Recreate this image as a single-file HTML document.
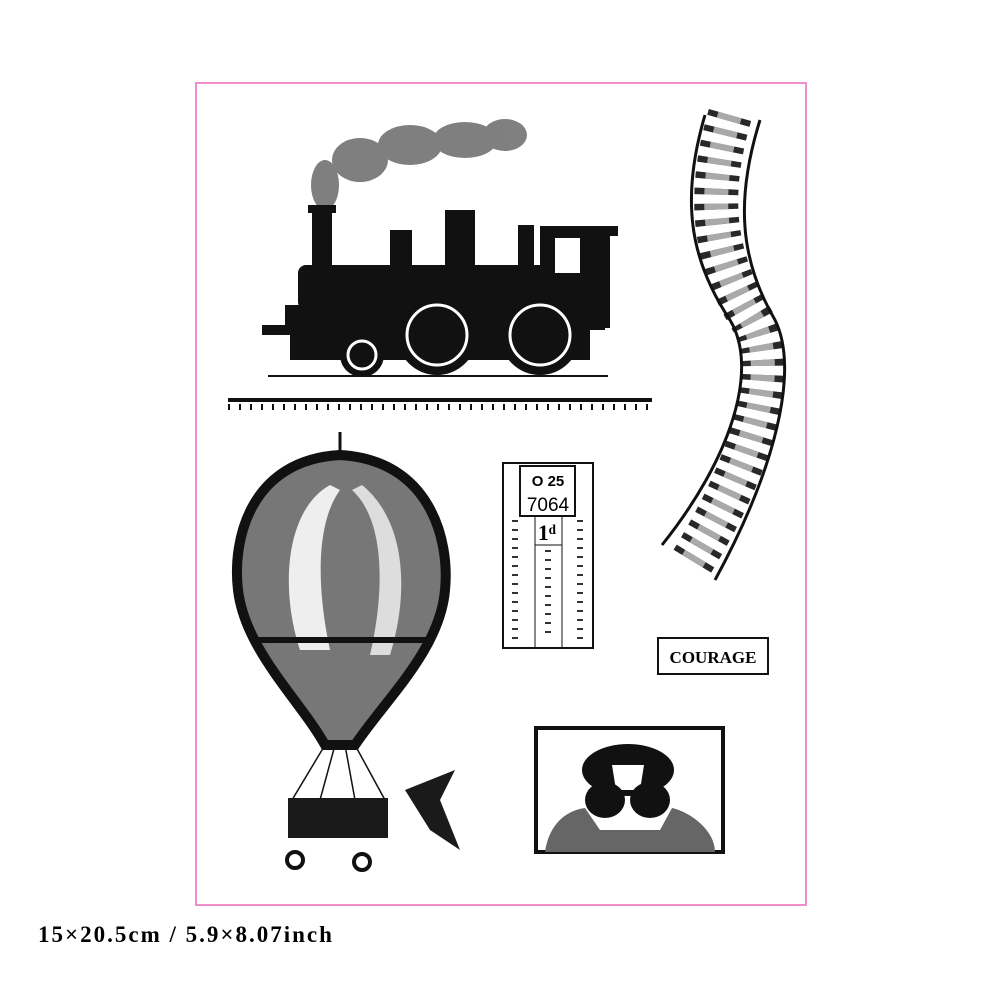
<!DOCTYPE html>
<html><head><meta charset="utf-8"><style>
html,body{margin:0;padding:0;background:#fff;width:1000px;height:1000px;overflow:hidden}
svg{position:absolute;left:0;top:0}
.cap{position:absolute;left:38px;top:922px;font-family:"Liberation Serif",serif;font-weight:bold;font-size:23px;letter-spacing:2px;color:#000;white-space:nowrap}
</style></head><body>
<svg width="1000" height="1000" viewBox="0 0 1000 1000">
<rect x="196" y="83" width="610" height="822" fill="none" stroke="#f08cc8" stroke-width="2"/>
<!-- smoke -->
<g fill="#555" opacity="0.75">
<ellipse cx="325" cy="185" rx="14" ry="25"/>
<ellipse cx="360" cy="160" rx="28" ry="22"/>
<ellipse cx="410" cy="145" rx="32" ry="20"/>
<ellipse cx="465" cy="140" rx="32" ry="18"/>
<ellipse cx="505" cy="135" rx="22" ry="16"/>
</g>
<!-- train -->
<g fill="#111">
<rect x="312" y="208" width="20" height="65"/>
<rect x="308" y="205" width="28" height="8"/>
<rect x="390" y="230" width="22" height="40"/>
<rect x="445" y="210" width="30" height="55"/>
<rect x="518" y="225" width="16" height="45"/>
<rect x="298" y="265" width="250" height="45" rx="8"/>
<rect x="540" y="228" width="70" height="100"/>
<rect x="540" y="226" width="78" height="10"/>
<rect x="285" y="305" width="320" height="25"/>
<rect x="262" y="325" width="40" height="10"/>
<rect x="290" y="330" width="300" height="30"/>
<circle cx="362" cy="355" r="22"/>
<circle cx="437" cy="335" r="40"/>
<circle cx="540" cy="335" r="40"/>
</g>
<g fill="none" stroke="#fff" stroke-width="3">
<circle cx="437" cy="335" r="30"/><circle cx="540" cy="335" r="30"/><circle cx="362" cy="355" r="14"/>
</g>
<rect x="555" y="238" width="25" height="35" fill="#fff"/>
<line x1="268" y1="376" x2="608" y2="376" stroke="#111" stroke-width="2"/>
<!-- rail -->
<rect x="228" y="398" width="424" height="4" fill="#111"/>
<line x1="228" y1="407" x2="652" y2="407" stroke="#111" stroke-width="6" stroke-dasharray="2 9"/>
<!-- balloon -->
<path d="M340 455 C250 460 232 540 238 590 C245 650 300 700 325 745 L355 745 C385 700 440 650 445 590 C450 540 430 460 340 455 Z" fill="#777"/>
<path d="M340 455 C250 460 232 540 238 590 C245 650 300 700 325 745 L355 745 C385 700 440 650 445 590 C450 540 430 460 340 455 Z" fill="none" stroke="#111" stroke-width="10"/>
<path d="M330 485 C285 510 280 590 300 650 L330 650 C315 580 318 520 340 490Z" fill="#eee"/>
<path d="M352 490 C385 520 385 590 370 655 L390 655 C410 590 405 520 362 485Z" fill="#ddd"/>
<path d="M255 640 C300 640 380 640 428 640" stroke="#111" stroke-width="6" fill="none"/>
<line x1="340" y1="432" x2="340" y2="458" stroke="#111" stroke-width="3"/>
<g stroke="#111" stroke-width="1.5">
<line x1="325" y1="745" x2="292" y2="800"/><line x1="355" y1="745" x2="385" y2="800"/>
<line x1="335" y1="745" x2="320" y2="800"/><line x1="345" y1="745" x2="355" y2="800"/>
</g>
<rect x="288" y="798" width="100" height="40" fill="#1a1a1a"/>
<circle cx="295" cy="860" r="8" fill="none" stroke="#111" stroke-width="4"/>
<circle cx="362" cy="862" r="8" fill="none" stroke="#111" stroke-width="4"/>
<path d="M405 790 L455 770 L440 800 L460 850 L430 830 Z" fill="#1a1a1a"/>
<!-- tracks -->
<g fill="none" stroke="#111" stroke-width="3">
<path d="M705 115 C680 200 690 260 730 320 C760 370 730 460 662 545"/>
<path d="M760 120 C735 200 740 260 775 320 C800 370 775 470 715 580"/>
</g>
<path d="M730 115 C705 200 715 260 752 320 C780 370 752 465 690 565" fill="none" stroke="#111" stroke-width="44" stroke-dasharray="6 9" opacity="0.9"/>
<path d="M730 115 C705 200 715 260 752 320 C780 370 752 465 690 565" fill="none" stroke="#fff" stroke-width="24" stroke-dasharray="6 9" opacity="0.6"/>
<!-- ticket -->
<rect x="503" y="463" width="90" height="185" fill="#fff" stroke="#111" stroke-width="2"/>
<rect x="520" y="466" width="55" height="50" fill="none" stroke="#111" stroke-width="2"/>
<text x="548" y="486" font-family="Liberation Sans,sans-serif" font-size="15" font-weight="bold" text-anchor="middle">O 25</text>
<text x="548" y="511" font-family="Liberation Sans,sans-serif" font-size="19" text-anchor="middle">7064</text>
<text x="547" y="540" font-family="Liberation Serif,serif" font-size="22" font-weight="bold" text-anchor="middle">1ᵈ</text>
<g stroke="#111" stroke-width="1"><line x1="535" y1="516" x2="535" y2="648"/><line x1="562" y1="516" x2="562" y2="648"/><line x1="535" y1="545" x2="562" y2="545"/></g>
<g stroke="#333" stroke-width="6" stroke-dasharray="2 7"><line x1="515" y1="520" x2="515" y2="645"/><line x1="548" y1="550" x2="548" y2="640"/><line x1="580" y1="520" x2="580" y2="645"/></g>
<!-- courage -->
<rect x="658" y="638" width="110" height="36" fill="none" stroke="#111" stroke-width="2"/>
<text x="713" y="663" font-family="Liberation Serif,serif" font-size="17" font-weight="bold" text-anchor="middle">COURAGE</text>
<!-- photo -->
<rect x="536" y="728" width="187" height="124" fill="#fff" stroke="#111" stroke-width="4"/>
<ellipse cx="628" cy="770" rx="46" ry="26" fill="#111"/>
<path d="M612 765 L644 765 L640 790 L616 790Z" fill="#fff"/>
<ellipse cx="605" cy="800" rx="20" ry="18" fill="#111"/>
<ellipse cx="650" cy="800" rx="20" ry="18" fill="#111"/>
<path d="M545 852 C550 820 570 810 585 808 L600 830 L660 830 L672 808 C690 812 715 830 715 852Z" fill="#666"/>
</svg>
<div class="cap">15×20.5cm / 5.9×8.07inch</div>
</body></html>
